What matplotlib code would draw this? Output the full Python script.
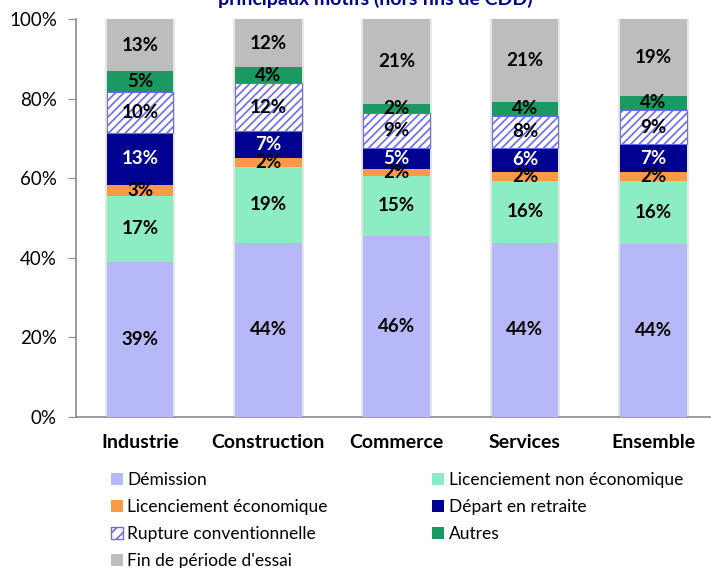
import matplotlib
matplotlib.use("Agg")
import matplotlib.pyplot as plt
import numpy as np
from matplotlib.patches import Patch

categories = ["Industrie", "Construction", "Commerce", "Services", "Ensemble"]
series_names = ["Démission", "Licenciement non économique", "Licenciement économique",
                "Départ en retraite", "Rupture conventionnelle", "Autres",
                "Fin de période d'essai"]
demission = [39.0, 43.8, 45.6, 43.8, 43.5]
lic_non_eco = [16.6, 19.0, 15.0, 15.6, 15.9]
lic_eco = [2.8, 2.4, 1.7, 2.1, 2.1]
retraite = [13.0, 6.7, 5.2, 6.2, 7.0]
rupture = [10.2, 11.9, 8.8, 7.9, 8.6]
autres = [5.3, 4.1, 2.3, 3.6, 3.6]
fin_essai = [13.1, 12.1, 21.4, 20.8, 19.3]
yticks = [0, 20, 40, 60, 80, 100]
title = "principaux motifs (hors fins de CDD)"

series = [demission, lic_non_eco, lic_eco, retraite, rupture, autres, fin_essai]
colors = ["#b6b8f8", "#8cecc4", "#fb9a46", "#000091", "white", "#1a9963", "#bdbdbd"]
hatches = [None, None, None, None, "////", None, None]
text_colors = ["black", "black", "black", "white", "black", "black", "black"]

plt.rcParams["font.family"] = ["Lato", "DejaVu Sans"]
plt.rcParams["hatch.linewidth"] = 1.2

fig = plt.figure(figsize=(7.11, 5.68), dpi=100)
ax = fig.add_axes([76/711, 1 - 417/568, 1 - 76/711, 398/568])

x = np.arange(len(categories))
totals = np.sum(np.array(series), axis=0)
# soft shadow behind bars
ax.bar(x, totals, 0.55, color="#e6e6e6", edgecolor="none", zorder=2)

bottom = np.zeros(len(categories))
handles = []
for vals, name, col, h, tc in zip(series, series_names, colors, hatches, text_colors):
    vals = np.array(vals)
    if h:
        ax.bar(x, vals, 0.52, bottom=bottom, color=col, hatch=h,
               edgecolor="#6b6bef", linewidth=0.8, zorder=3)
        handles.append(Patch(facecolor=col, hatch="///", edgecolor="#6b6bef", label=name))
    else:
        ax.bar(x, vals, 0.52, bottom=bottom, color=col, edgecolor="none", zorder=3)
        handles.append(Patch(facecolor=col, edgecolor="none", label=name))
    for xi, b, v in zip(x, bottom, vals):
        ax.text(xi, b + v / 2, f"{round(v):.0f}%", ha="center", va="center",
                fontsize=13.5, fontweight="bold", color=tc, zorder=5)
    bottom += vals

ax.set_xlim(-0.5, 4.45)
ax.set_ylim(0, 100)
ax.set_yticks(yticks)
ax.set_yticklabels([f"{v}%" for v in yticks], fontsize=13.5)
ax.set_xticks(x)
ax.set_xticklabels(categories, fontsize=14, fontweight="bold")
ax.tick_params(axis="x", length=0, pad=12)
ax.tick_params(axis="y", length=5.8, color="#8c8c8c", pad=8)
for s in ["top", "right"]:
    ax.spines[s].set_visible(False)
for s in ["left", "bottom"]:
    ax.spines[s].set_color("#8c8c8c")
    ax.spines[s].set_linewidth(1.2)

order = [0, 2, 4, 6, 1, 3, 5]
leg = fig.legend([handles[i] for i in order], [series_names[i] for i in order],
                 ncol=2, loc="upper left", bbox_to_anchor=(111/711, 1 - 472/568),
                 frameon=False, fontsize=12.5, handlelength=0.7, handleheight=0.7,
                 handletextpad=0.25, labelspacing=0.64, columnspacing=6.0,
                 borderaxespad=0, borderpad=0)

fig.text(375/711, 1 - 5/568, title, ha="center", va="baseline", fontsize=14,
         fontweight="bold", color="#000091")

fig.savefig("out.png", dpi=100)
